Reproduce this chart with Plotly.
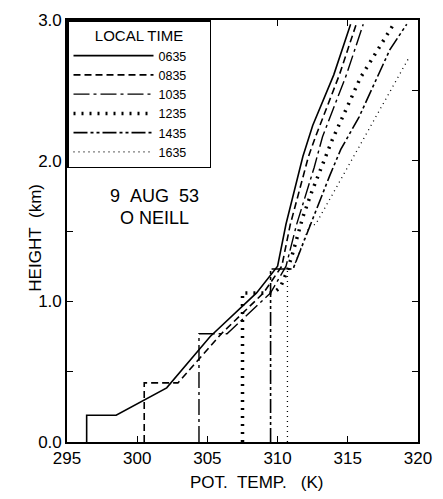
import plotly.graph_objects as go

# Potential temperature (K) and height (km) profiles, O'Neill 9 Aug 1953
times = ["0635", "0835", "1035", "1235", "1435", "1635"]

theta_0635 = [296.4, 296.4, 298.5, 302.1, 305.2, 308.5, 310.0, 310.6, 311.8, 312.5, 314.0, 315.2]
z_0635     = [0.0,   0.19,  0.19,  0.385, 0.75,  1.06,  1.25,  1.55,  2.03,  2.25,  2.61,  2.97]

theta_0835 = [300.5, 300.5, 302.9, 306.0, 309.0, 310.3, 310.9, 312.2, 312.7, 314.4, 315.6]
z_0835     = [0.0,   0.42,  0.42,  0.77,  1.06,  1.25,  1.545, 2.03,  2.17,  2.61,  2.97]

theta_1035 = [304.4, 304.4, 306.4, 309.5, 310.6, 311.35, 312.6, 313.2, 314.9, 316.1]
z_1035     = [0.0,   0.77,  0.77,  1.06,  1.25,  1.545,  1.95,  2.17,  2.61,  2.97]

theta_1235 = [307.5, 307.5, 309.7, 310.2, 310.7, 311.1, 311.8, 312.4, 313.9, 315.9, 318.2]
z_1235     = [0.0,   1.06,  1.06,  1.10,  1.22,  1.35,  1.60,  1.77,  2.15,  2.59,  2.96]

theta_1435 = [309.5, 309.5, 311.1, 312.5, 313.7, 314.5, 315.8, 318.0, 319.2]
z_1435     = [0.0,   1.23,  1.23,  1.59,  1.89,  2.08,  2.31,  2.79,  2.97]

theta_1635 = [310.7, 310.7, 311.1, 312.3, 312.7, 319.4]
z_1635     = [0.0,   1.23,  1.23,  1.545, 1.545, 2.74]

x_ticks = [295, 300, 305, 310, 315, 320]
y_ticks = [0.0, 0.5, 1.0, 1.5, 2.0, 2.5, 3.0]
y_ticktext = ["0.0", "", "1.0", "", "2.0", "", "3.0"]

series = [
    (theta_0635, z_0635, dict(color="black", width=1.6, dash="solid")),
    (theta_0835, z_0835, dict(color="black", width=1.6, dash="7px,4px")),
    (theta_1035, z_1035, dict(color="black", width=1.4, dash="16px,4px,3px,4px")),
    (theta_1235, z_1235, dict(color="black", width=3.5, dash="2px,6px")),
    (theta_1435, z_1435, dict(color="black", width=1.6, dash="14px,3px,3px,3px,3px,3px")),
    (theta_1635, z_1635, dict(color="black", width=1.3, dash="1px,4px")),
]

FONT = "Liberation Sans, Arial, sans-serif"
NB = "\u00a0"

fig = go.Figure()
for name, (tx, zz, ln) in zip(times, series):
    fig.add_trace(go.Scatter(x=tx, y=zz, mode="lines", name=name + NB * 5, line=ln))

fig.add_annotation(x=301.2, y=1.75, text="9" + NB * 2 + "AUG" + NB * 2 + "53", showarrow=False,
                   font=dict(family=FONT, size=18, color="black"))
fig.add_annotation(x=301.2, y=1.59, text="O NEILL", showarrow=False,
                   font=dict(family=FONT, size=18, color="black"))

# axis titles as free text (positions as in the reference)
fig.add_annotation(x=308.5, y=0, yref="y", yshift=-40, text="POT." + NB + " TEMP." + NB * 2 + " (K)",
                   showarrow=False, font=dict(family=FONT, size=17, color="black"))
fig.add_annotation(x=-0.125, xref="paper", y=1.45, text="HEIGHT" + NB * 2 + "(km)", textangle=-90,
                   showarrow=False, font=dict(family=FONT, size=17, color="black"))

axis_common = dict(showline=True, linecolor="black", linewidth=1.6, mirror="ticks",
                   ticks="inside", tickcolor="black", tickwidth=1.3, ticklen=6,
                   showgrid=False, zeroline=False,
                   tickfont=dict(family=FONT, size=17, color="black"))

fig.update_xaxes(range=[295, 320], tickvals=x_ticks, **axis_common)
fig.update_yaxes(range=[0, 3], tickvals=y_ticks, ticktext=y_ticktext, **axis_common)

fig.update_layout(
    width=443, height=499,
    margin=dict(l=67, r=15, t=11, b=57),
    plot_bgcolor="white", paper_bgcolor="white",
    legend=dict(x=0, y=1, xanchor="left", yanchor="top",
                bordercolor="black", borderwidth=1.5, bgcolor="white",
                itemwidth=80, tracegroupgap=0,
                title=dict(text="LOCAL TIME", side="top center",
                           font=dict(family=FONT, size=15, color="black")),
                font=dict(family=FONT, size=12.5, color="black")),
)

fig.write_html("out.html")
